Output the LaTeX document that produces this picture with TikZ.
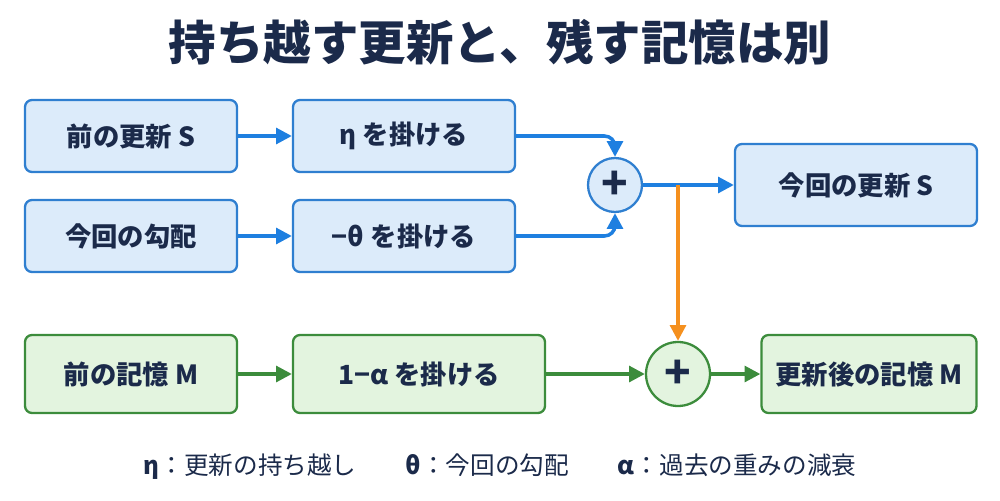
\documentclass[tikz,border=0pt]{standalone}
\usepackage{fontspec}
\setmainfont{Noto Sans CJK JP}
\usepackage{tikz}
\usetikzlibrary{arrows.meta,positioning}
\definecolor{navy}{HTML}{1B2A4A}
\definecolor{bfill}{HTML}{DCEBFA}
\definecolor{bline}{HTML}{2F7FD0}
\definecolor{barrow}{HTML}{1E7FE0}
\definecolor{gfill}{HTML}{E3F4DF}
\definecolor{gline}{HTML}{3C8C3C}
\definecolor{oarrow}{HTML}{F5901E}
\newcommand{\unitpx}{*0.02cm}
\newcommand{\gk}[1]{\textit{#1}}
\tikzset{
  bbox/.style={draw=bline,fill=bfill,line width=1.3pt,rounded corners=4pt,text=navy,font=\bfseries\fontsize{15}{18}\selectfont},
  gbox/.style={draw=gline,fill=gfill,line width=1.3pt,rounded corners=4pt,text=navy,font=\bfseries\fontsize{15}{18}\selectfont},
  bsum/.style={circle,draw=bline,fill=bfill,line width=1.3pt,minimum size=54\unitpx,inner sep=0pt,text=navy,font=\bfseries\Huge},
  gsum/.style={circle,draw=gline,fill=gfill,line width=1.3pt,minimum size=64\unitpx,inner sep=0pt,text=navy,font=\bfseries\Huge},
  barr/.style={draw=barrow,line width=2pt,-{Triangle[length=9pt,width=9pt]}},
  garr/.style={draw=gline,line width=2pt,-{Triangle[length=9pt,width=9pt]}},
  oarr/.style={draw=oarrow,line width=2pt,-{Triangle[length=9pt,width=9pt]}}
}
\begin{document}
\begin{tikzpicture}[x=0.02cm,y=-0.02cm]
\useasboundingbox (0,0) rectangle (1000,500);
\node[text=navy,font=\bfseries\fontsize{27}{32}\selectfont] (title) at (500,42) {持ち越す更新と、残す記憶は別};
% blue row
\node[bbox,minimum width=212\unitpx,minimum height=72\unitpx] (prevS) at (131,136) {前の更新 S};
\node[bbox,minimum width=222\unitpx,minimum height=72\unitpx] (eta) at (404,136) {\gk{η} を掛ける};
\node[bbox,minimum width=212\unitpx,minimum height=72\unitpx] (grad) at (131,236) {今回の勾配};
\node[bbox,minimum width=222\unitpx,minimum height=72\unitpx] (theta) at (404,236) {−\gk{θ} を掛ける};
\node[bsum] (bplus) at (615,185) {+};
\node[bbox,minimum width=242\unitpx,minimum height=82\unitpx] (newS) at (856,185) {今回の更新 S};
% green row
\node[gbox,minimum width=212\unitpx,minimum height=78\unitpx] (prevM) at (131,374) {前の記憶 M};
\node[gbox,minimum width=252\unitpx,minimum height=78\unitpx] (alpha) at (419,374) {1−\gk{α} を掛ける};
\node[gsum] (gplus) at (678,374) {+};
\node[gbox,minimum width=215\unitpx,minimum height=78\unitpx] (newM) at (869,374) {更新後の記憶 M};
\coordinate (split) at (678,185);
% arrows
\draw[barr] (prevS) -- (eta);
\draw[barr] (grad) -- (theta);
\draw[barr,rounded corners=6pt] (eta.east) -| (bplus.north);
\draw[barr,rounded corners=6pt] (theta.east) -| (bplus.south);
\draw[barr] (bplus) -- (newS);
\draw[oarr] (split) -- (gplus.north);
\draw[garr] (prevM) -- (alpha);
\draw[garr] (alpha) -- (gplus);
\draw[garr] (gplus) -- (newM);
\node[text=navy,font=\fontsize{14}{17}\selectfont] (legend) at (500,467) {\textbf{\gk{η}}：更新の持ち越し\qquad\textbf{\gk{θ}}：今回の勾配\qquad\textbf{\gk{α}}：過去の重みの減衰};
\end{tikzpicture}
\end{document}
